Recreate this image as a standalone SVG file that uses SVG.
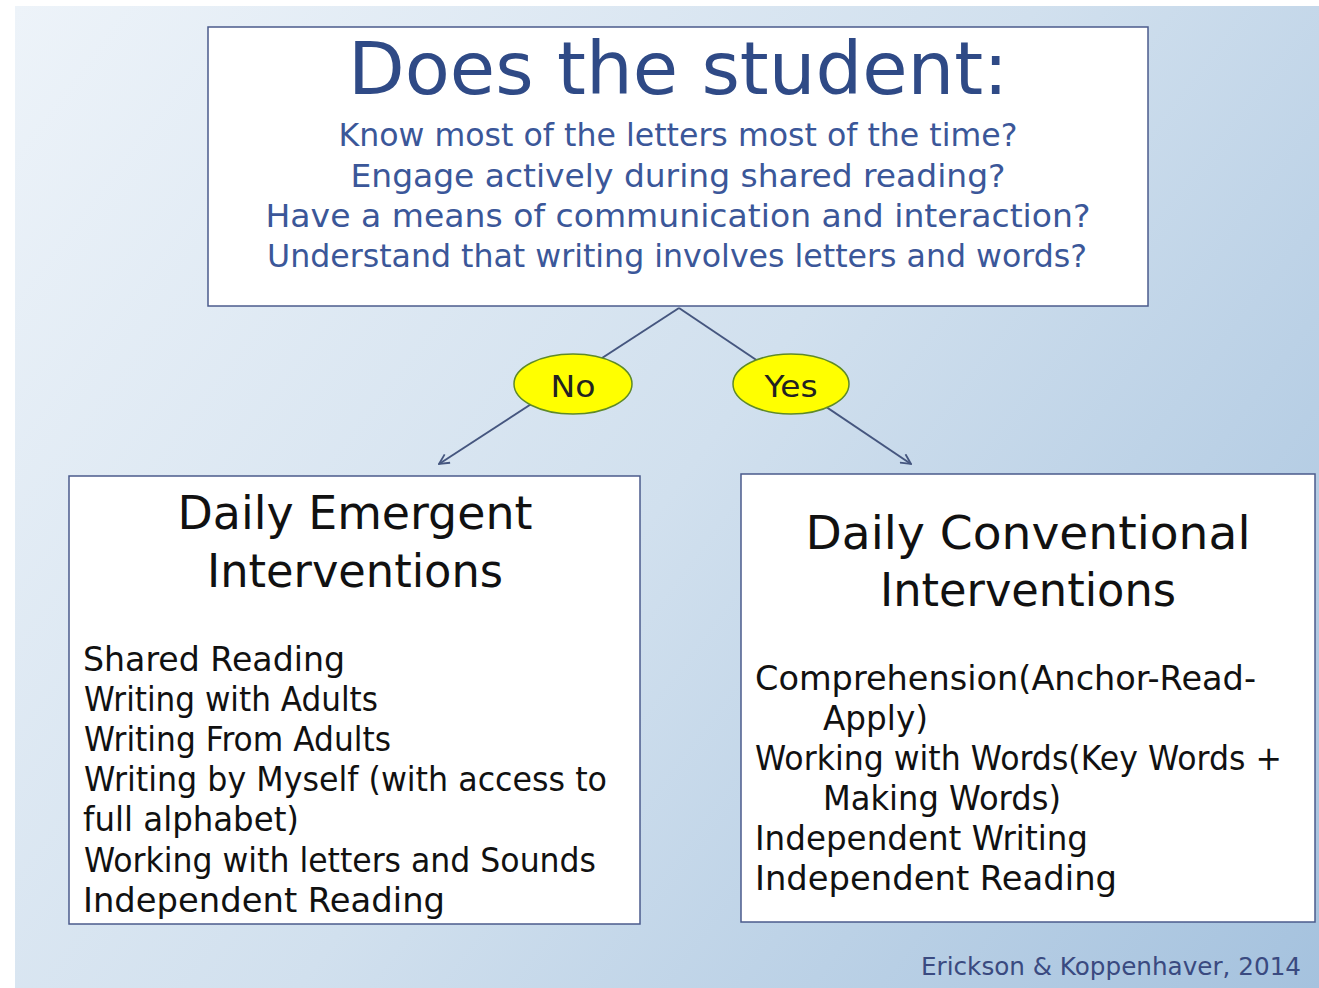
<svg xmlns="http://www.w3.org/2000/svg" width="1319" height="988" viewBox="0 0 1319 988">
<defs>
<linearGradient id="bg" x1="15" y1="6" x2="1319" y2="988" gradientUnits="userSpaceOnUse">
<stop offset="0" stop-color="#edf3f9"/>
<stop offset="0.5" stop-color="#d1e0ee"/>
<stop offset="1" stop-color="#a5c2de"/>
</linearGradient>
<marker id="arr" viewBox="0 0 12 12" refX="11" refY="6" markerWidth="12" markerHeight="12" markerUnits="userSpaceOnUse" orient="auto">
<path d="M1,1 L11,6 L1,11" fill="none" stroke="#45567f" stroke-width="1.8"/>
</marker>
<style>
text{font-family:"DejaVu Sans","Liberation Sans",sans-serif}
.box{fill:#ffffff;stroke:#4b5b8c;stroke-width:1.5}
.title{font-size:73px;fill:#2f4a86;text-anchor:middle}
.sub{font-size:32px;fill:#3b5799;text-anchor:middle}
.head{font-size:46px;fill:#111;text-anchor:middle}
.item{font-size:33px;fill:#111}
.oval{fill:#ffff00;stroke:#5f8a28;stroke-width:1.5}
.lbl{font-size:31px;fill:#222;text-anchor:middle}
.conn{stroke:#45567f;stroke-width:2;fill:none}
.foot{font-size:25px;fill:#3a4a80}
</style>
</defs>
<rect x="0" y="0" width="1319" height="988" fill="#ffffff"/>
<rect x="15" y="6" width="1304" height="982" fill="url(#bg)"/>
<g id="connectors">
<line class="conn" x1="679" y1="308" x2="439" y2="464" marker-end="url(#arr)"/>
<line class="conn" x1="679" y1="308" x2="911" y2="464" marker-end="url(#arr)"/>
</g>
<g id="question">
<rect class="box" x="208" y="27" width="940" height="279"/>
<text class="title" x="678" y="94" textLength="660" lengthAdjust="spacingAndGlyphs">Does the student:</text>
<text class="sub" x="678" y="146" textLength="679" lengthAdjust="spacingAndGlyphs">Know most of the letters most of the time?</text>
<text class="sub" x="678" y="187" textLength="655" lengthAdjust="spacingAndGlyphs">Engage actively during shared reading?</text>
<text class="sub" x="678" y="227" textLength="825" lengthAdjust="spacingAndGlyphs">Have a means of communication and interaction?</text>
<text class="sub" x="677" y="267" textLength="820" lengthAdjust="spacingAndGlyphs">Understand that writing involves letters and words?</text>
</g>
<g id="no">
<ellipse class="oval" cx="573" cy="384" rx="59" ry="30"/>
<text class="lbl" x="573" y="397" textLength="45" lengthAdjust="spacingAndGlyphs">No</text>
</g>
<g id="yes">
<ellipse class="oval" cx="791" cy="384" rx="58" ry="30"/>
<text class="lbl" x="791" y="397" textLength="53" lengthAdjust="spacingAndGlyphs">Yes</text>
</g>
<g id="emergent">
<rect class="box" x="69" y="476" width="571" height="448"/>
<text class="head" x="355" y="529" textLength="355" lengthAdjust="spacingAndGlyphs">Daily Emergent</text>
<text class="head" x="355" y="587" textLength="296" lengthAdjust="spacingAndGlyphs">Interventions</text>
<text class="item" x="83" y="671" textLength="262" lengthAdjust="spacingAndGlyphs">Shared Reading</text>
<text class="item" x="84" y="711" textLength="294" lengthAdjust="spacingAndGlyphs">Writing with Adults</text>
<text class="item" x="84" y="751" textLength="307" lengthAdjust="spacingAndGlyphs">Writing From Adults</text>
<text class="item" x="84" y="791" textLength="523" lengthAdjust="spacingAndGlyphs">Writing by Myself (with access to</text>
<text class="item" x="83" y="831" textLength="216" lengthAdjust="spacingAndGlyphs">full alphabet)</text>
<text class="item" x="84" y="872" textLength="512" lengthAdjust="spacingAndGlyphs">Working with letters and Sounds</text>
<text class="item" x="83" y="912" textLength="362" lengthAdjust="spacingAndGlyphs">Independent Reading</text>
</g>
<g id="conventional">
<rect class="box" x="741" y="474" width="574" height="448"/>
<text class="head" x="1028" y="549" textLength="445" lengthAdjust="spacingAndGlyphs">Daily Conventional</text>
<text class="head" x="1028" y="606" textLength="296" lengthAdjust="spacingAndGlyphs">Interventions</text>
<text class="item" x="755" y="690" textLength="501" lengthAdjust="spacingAndGlyphs">Comprehension(Anchor-Read-</text>
<text class="item" x="823" y="730" textLength="105" lengthAdjust="spacingAndGlyphs">Apply)</text>
<text class="item" x="755" y="770" textLength="527" lengthAdjust="spacingAndGlyphs">Working with Words(Key Words +</text>
<text class="item" x="823" y="810" textLength="238" lengthAdjust="spacingAndGlyphs">Making Words)</text>
<text class="item" x="755" y="850" textLength="333" lengthAdjust="spacingAndGlyphs">Independent Writing</text>
<text class="item" x="755" y="890" textLength="362" lengthAdjust="spacingAndGlyphs">Independent Reading</text>
</g>
<text class="foot" x="921" y="975" textLength="380" lengthAdjust="spacingAndGlyphs">Erickson &amp; Koppenhaver, 2014</text>
</svg>
